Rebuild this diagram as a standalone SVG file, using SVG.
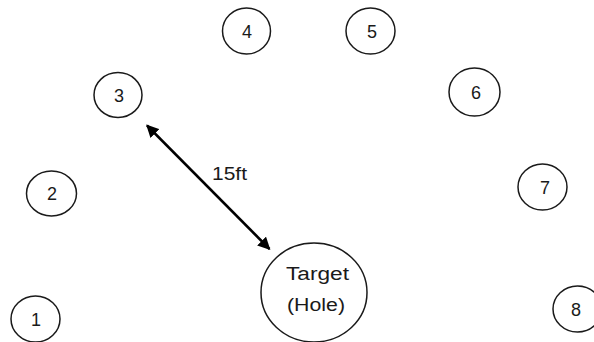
<svg xmlns="http://www.w3.org/2000/svg" width="594" height="342" viewBox="0 0 594 342">
  <defs>
    <style>
      .spot { fill: #ffffff; stroke: #1a1a1a; stroke-width: 1.5; }
      .num { font-family: "Liberation Sans", Arial, sans-serif; font-size: 18px; fill: #1a1a1a; text-anchor: middle; }
      .lbl { font-family: "Liberation Sans", Arial, sans-serif; font-size: 18px; fill: #1a1a1a; }
      .dist { stroke: #000000; stroke-width: 2.5; fill: none; }
    </style>
    <marker id="head" viewBox="0 0 10 10" refX="9" refY="5" markerWidth="5" markerHeight="5" orient="auto-start-reverse" markerUnits="strokeWidth">
      <path d="M0,0 L10,5 L0,10 Z" fill="#000000"/>
    </marker>
  </defs>
  <rect width="594" height="342" fill="#ffffff"/>

  <g id="spot-1"><ellipse class="spot" cx="35.5" cy="319" rx="24.5" ry="23"/><text class="num" x="36" y="325.5">1</text></g>
  <g id="spot-2"><ellipse class="spot" cx="51.5" cy="193.5" rx="25" ry="22.5"/><text class="num" x="52" y="200">2</text></g>
  <g id="spot-3"><ellipse class="spot" cx="118" cy="95" rx="24" ry="22.5"/><text class="num" x="119" y="101.5">3</text></g>
  <g id="spot-4"><ellipse class="spot" cx="246.5" cy="31" rx="24" ry="23"/><text class="num" x="247" y="37.5">4</text></g>
  <g id="spot-5"><ellipse class="spot" cx="370.5" cy="31" rx="24.5" ry="23"/><text class="num" x="372" y="37.5">5</text></g>
  <g id="spot-6"><ellipse class="spot" cx="474.5" cy="92" rx="25.5" ry="24"/><text class="num" x="476" y="98.5">6</text></g>
  <g id="spot-7"><ellipse class="spot" cx="542.5" cy="187" rx="24.5" ry="23"/><text class="num" x="545" y="193.5">7</text></g>
  <g id="spot-8"><ellipse class="spot" cx="577.5" cy="309" rx="24.5" ry="23"/><text class="num" x="576" y="315.5">8</text></g>

  <g id="target">
    <ellipse class="spot" cx="314" cy="292.5" rx="53" ry="49.5"/>
    <text class="lbl" x="286" y="280" textLength="63" lengthAdjust="spacingAndGlyphs">Target</text>
    <text class="lbl" x="287" y="311" textLength="58" lengthAdjust="spacingAndGlyphs">(Hole)</text>
  </g>

  <g id="connectors">
    <line class="dist" x1="147" y1="125.5" x2="269.5" y2="249" marker-start="url(#head)" marker-end="url(#head)"/>
    <text class="lbl" x="212" y="180" textLength="35" lengthAdjust="spacingAndGlyphs">15ft</text>
  </g>
</svg>
